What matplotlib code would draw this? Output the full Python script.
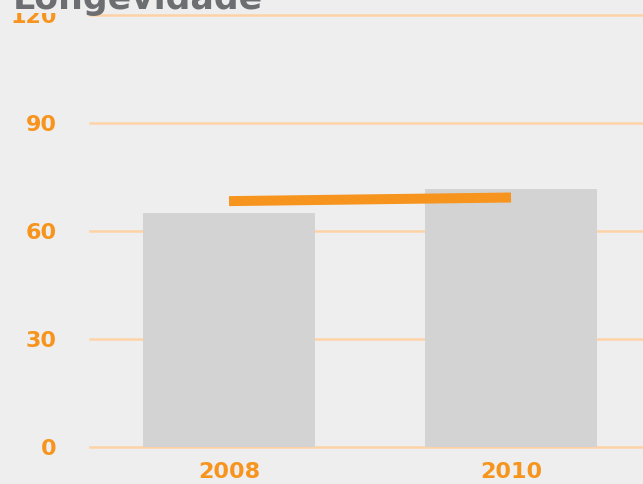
import matplotlib
matplotlib.use("Agg")
import matplotlib.pyplot as plt
from matplotlib.patches import Rectangle

categories = ["2008", "2010"]
bar_values = [65.0, 71.6]
line_values = [68.3, 69.3]
yticks = [0, 30, 60, 90, 120]
title = "Longevidade"

bg = "#EEEEEE"
orange = "#F7941D"
grid = "#FDD3A6"

W, H = 643, 484
fig = plt.figure(figsize=(6.43, 4.84), dpi=100, facecolor=bg)
ax = fig.add_axes([90/W, 1-447/H, 1-90/W, (447-15)/H])
ax.set_facecolor(bg)

x = list(range(len(categories)))
ax.bar(x, bar_values, width=0.61, color="#D3D3D3", zorder=2)
ax.plot(x, line_values, color=orange, lw=7.2, solid_capstyle="butt", zorder=3)

ax.set_ylim(0, 120)
ax.set_xlim(-0.493, 1.468)
ax.set_yticks(yticks)
ax.set_xticks(x)
ax.set_xticklabels(categories)
for y in yticks:
    ax.axhline(y, color=grid, lw=1.8, zorder=1, clip_on=False)
for s in ax.spines.values():
    s.set_visible(False)
ax.tick_params(length=0, colors=orange, labelsize=16)
ax.tick_params(axis="y", pad=24)
ax.tick_params(axis="x", pad=11)
for lab in ax.get_xticklabels() + ax.get_yticklabels():
    lab.set_fontweight("bold")
    lab.set_color(orange)

# header band hiding the top of the upper tick label
fig.patches.append(Rectangle((0, 1-13/H), 88/W, 13/H, transform=fig.transFigure,
                             facecolor=bg, edgecolor="none", zorder=5))
fig.text(13/W, 1-9/H, title, fontsize=25, fontweight="bold",
         color="#6D6E71", ha="left", va="baseline", zorder=6)

fig.savefig("out.png", dpi=100, facecolor=bg)
